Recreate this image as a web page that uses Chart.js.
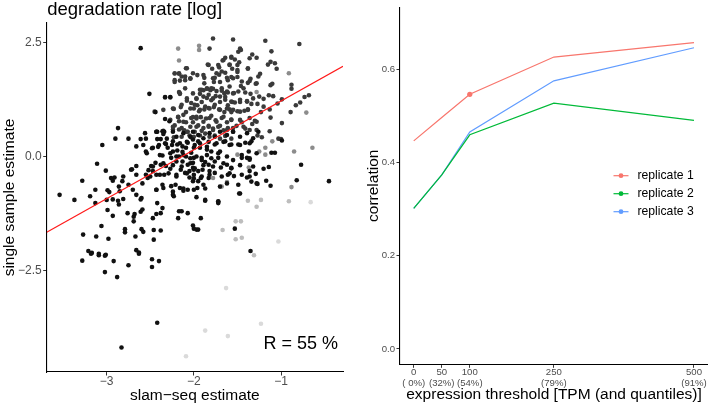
<!DOCTYPE html>
<html><head><meta charset="utf-8">
<script src="https://cdn.jsdelivr.net/npm/chart.js@4/dist/chart.umd.min.js"></script>
<style>
html,body{margin:0;padding:0;background:#fff;}
#wrap{position:relative;width:708px;height:406px;overflow:hidden;background:#fff;}
canvas{position:absolute;top:0;}
#c1{left:0;} #c2{left:350px;}
</style></head><body>
<div id="wrap"><canvas id="c1" width="350" height="406"></canvas><canvas id="c2" width="358" height="406"></canvas></div>
<script>
// ---------- left panel data: [slam-seq estimate, single sample estimate] ----------
const exprHigh = [
[-2.61,2.37],[-2.51,1.37],[-2.33,1.30],[-2.27,1.30],[-2.44,0.97],[-2.33,0.82],[-2.28,0.77],[-2.87,0.62],[-2.42,0.54],[-2.36,0.55],[-2.34,0.54],[-2.90,0.39],[-2.75,0.39],[-2.61,0.38],[-2.42,0.38],[-2.38,0.38],[-2.31,0.39],
[-3.05,0.25],[-3.11,-0.16],[-3.28,-0.53],[-3.54,-0.84],[-3.37,-0.95],[-3.01,-0.31],[-3.13,-0.73],[-3.19,-0.87],[-3.13,-1.02],[-2.99,-0.74],[-2.97,-0.78],[-2.95,-0.47],[-2.91,-0.46],[-2.81,-0.44],[-2.86,-0.66],[-2.85,-0.76],[-2.71,-0.28],[-2.66,-0.21],[-2.66,-0.40],[-2.59,-0.59],[-2.55,-0.40],[-2.53,-0.47],[-2.93,-0.94],[-2.87,-0.97],[-2.81,-0.93],[-3.00,-0.95],[-2.70,-0.73],[-2.66,-0.84],[-2.61,-0.94],[-2.86,-1.05],[-2.99,-1.17],[-2.93,-1.30],[-2.76,-1.24],[-2.68,-1.26],[-2.69,-1.32],[-2.59,-1.16],[-2.61,-1.21],[-2.69,-1.42],[-3.06,-1.52],[-3.27,-1.71],[-3.12,-1.75],[-2.98,-1.80],[-2.79,-1.59],[-2.79,-1.66],[-2.67,-1.75],[-2.60,-1.59],[-2.58,-1.65],[-2.46,-1.61],[-2.46,-1.82],[-2.38,-1.62],[-3.21,-2.07],[-3.17,-2.11],[-3.09,-2.13],[-3.01,-2.15],[-2.66,-2.05],[-2.63,-2.10],[-2.43,-0.40],[-2.34,-0.40],[-2.43,-0.73],[-2.36,-0.62],[-2.35,-0.69],[-2.23,-0.87],[-2.26,-0.65],[-2.21,-0.62],[-2.16,-0.69],[-2.12,-0.75],[-2.07,-0.73],[-2.17,-1.20],[-2.14,-1.20],[-2.18,-1.35],[-2.07,-1.24],[-2.01,-1.51],[-2.00,-1.58],[-2.36,-1.13],[-2.38,-1.24],[-2.43,-1.26],[-2.47,-1.35],[-2.42,-1.02],[-2.52,-0.30],[-2.49,-0.21],[-2.44,-0.14],[-2.47,-0.32],[-2.36,0.02],[-2.38,-0.18],[-2.32,-0.21],[-2.27,-0.27],[-2.24,0.11],[-2.19,0.13],[-2.13,0.10],[-2.09,0.19],[-2.13,-0.11],[-2.07,-0.18],[-2.01,-0.25],[-2.05,-0.32],[-2.00,-0.40],[-2.66,0.22],[-2.55,0.11],[-2.47,0.19],[-2.40,0.25],[-2.32,0.27],[-2.24,0.33],[-2.72,-0.29],[-2.93,-0.53],[-2.82,-0.54],[-2.75,-0.62],[-2.55,0.39],
[-2.01,0.37],[-2.07,0.30],[-2.00,0.19],[-2.03,0.08],[-2.09,0.00],[-2.00,-0.03],[-2.17,0.00],[-2.20,-0.11],[-2.26,-0.03],[-2.30,0.19],[-2.19,0.26],[-2.13,0.22],[-2.01,-0.14],[-2.00,-0.29],[-2.10,-0.36],[-2.15,-0.29],[-2.20,-0.40],[-2.01,-0.54],[-2.05,-0.46],
[-0.99,0.35],[-1.11,0.08],[-1.07,0.08],[-0.77,-0.18],[-0.82,-0.52],[-0.45,-0.54],[-1.14,-0.23],[-1.20,-0.27],[-1.29,-0.38],[-1.36,-0.32],[-1.39,-0.46],[-1.17,-0.53],[-1.12,-0.64],[-1.34,-0.55],[-1.27,-0.60],[-1.49,-0.62],[-1.48,-0.81],[-1.54,-0.43],[-1.72,-0.98],[-1.72,-1.02],[-1.87,-0.97],[-1.97,-0.89],[-1.92,-1.35],[-1.97,-1.60],[-1.95,-1.60],[-1.53,-1.58],[-1.35,-2.07],
[-1.91,-0.03],[-1.87,-0.12],[-1.83,-0.18],[-1.90,-0.29],[-1.95,-0.32],[-1.82,-0.32],[-1.76,-0.36],[-1.69,-0.24],[-1.62,-0.18],[-1.57,-0.25],[-1.76,-0.11],[-1.72,-0.03],[-1.70,0.11],[-1.80,0.11],[-1.85,0.15],[-1.93,0.19],[-1.95,0.33],[-1.83,0.32],[-1.76,0.26],[-1.64,0.33],[-1.57,0.26],[-1.49,0.26],[-1.41,0.30],[-1.34,0.33],[-1.37,0.11],[-1.45,-0.03],[-1.39,-0.03],[-1.36,-0.07],[-1.95,-0.54],[-1.89,-0.62],[-1.83,-0.47],[-1.61,-0.40],[-1.96,-0.69],[-1.92,-0.47],
[-3.28,-2.28],[-3.18,-2.13],[-3.09,-2.16],[-3.02,-2.17],[-2.92,-2.29],[-3.02,-2.53],[-2.88,-2.64],[-2.75,-2.38],[-2.63,-2.13],[-2.48,-2.25],[-2.40,-2.29],[-2.48,-2.42],[-2.42,-3.64],[-2.83,-4.18],
[-2.56,0.51],[-2.43,0.54],[-2.35,0.49],[-2.24,0.54],[-2.20,0.43],[-2.12,0.51],[-2.04,0.43],[-2.01,0.54],[-1.95,0.47],[-1.89,0.40],[-1.82,0.51],[-1.76,0.43],[-1.70,0.54],[-1.62,0.47],[-1.55,0.54],[-1.47,0.43],[-1.39,0.51],[-1.32,0.40],[-1.26,0.54],
[-2.58,0.25],[-2.48,0.18],[-2.41,0.21],[-2.33,0.29],[-2.25,0.25],[-2.16,0.29],[-2.08,0.32],[-1.99,0.25],[-1.93,0.29],[-1.85,0.21],[-1.74,0.29],[-1.66,0.32],[-1.59,0.25],[-1.47,0.25],[-1.36,0.29],
[-2.54,0.07],[-2.39,0.03],[-2.27,0.07],[-2.20,0.00],[-2.12,0.03],[-2.04,-0.04],[-1.97,0.00],[-1.91,-0.08],[-1.85,0.03],[-1.80,-0.04],[-1.72,0.07],[-1.62,0.00],[-1.55,-0.08],[-1.45,0.03],[-1.36,-0.04],[-1.28,0.07],
[-2.47,-0.22],[-2.35,-0.15],[-2.24,-0.19],[-2.14,-0.22],[-2.04,-0.15],[-1.99,-0.26],[-1.89,-0.19],[-1.78,-0.22],[-1.66,-0.15],[-1.57,-0.26],[-1.47,-0.19],[-1.32,-0.22],
[-2.50,-0.44],[-2.39,-0.40],[-2.29,-0.37],[-2.20,-0.44],[-2.08,-0.37],[-2.00,-0.48],[-1.91,-0.44],[-1.82,-0.40],[-1.68,-0.44],[-1.59,-0.37],[-1.45,-0.40],[-1.36,-0.44],
[-2.43,-0.73],[-2.24,-0.77],[-2.12,-0.70],[-2.00,-0.73],[-1.87,-0.70],[-1.70,-0.66],[-1.62,-0.59],[-1.47,-0.81],[-1.28,-0.59],
[-2.60,-0.91],[-2.24,-0.84],[-1.87,-0.95],[-1.72,-0.99]
];
const exprUpper = [
[-2.09,1.93],[-2.17,1.81],[-2.10,1.75],[-2.04,1.70],[-2.22,1.63],[-2.16,1.66],[-2.10,1.49],[-2.17,1.41],[-2.16,1.37],[-2.08,1.22],[-2.03,1.17],[-2.23,1.04],[-2.15,1.08],[-2.09,0.97],[-2.12,0.91],[-2.18,0.86],[-2.01,0.86],[-2.17,0.77],[-2.09,0.75],[-2.22,0.68],[-2.04,0.65],[-2.24,0.59],[-2.17,0.59],[-2.07,0.54],[-2.23,0.42],[-2.14,0.43],[-2.03,0.42],
[-2.00,1.05],[-2.01,0.75],[-1.99,0.54],[-2.05,0.46],[-2.11,0.57],[-2.00,0.43],
[-1.78,2.58],[-1.55,2.56],[-1.18,2.53],[-0.79,2.46],[-1.82,2.36],[-1.47,2.36],[-1.46,2.33],[-1.49,2.29],[-1.11,2.30],[-1.33,2.23],[-1.28,2.16],[-1.57,2.18],[-1.64,2.16],[-1.67,2.10],[-1.53,2.12],[-1.12,2.07],[-1.07,2.04],[-1.84,2.01],[-1.59,2.01],[-1.72,2.00],[-1.71,1.95],[-1.50,2.00],[-1.15,2.01],[-1.79,1.92],[-1.56,1.92],[-1.38,1.92],[-1.05,1.92],[-1.50,1.85],[-1.64,1.83],[-1.71,1.79],[-1.24,1.81],[-1.26,1.75],[-1.57,1.74],[-1.50,1.74],[-1.62,1.72],[-1.88,1.72],[-1.76,1.72],[-1.35,1.70],[-1.96,1.78],[-1.29,1.59],[-1.10,1.59],[-1.38,1.61],[-0.88,1.57],[-1.77,1.63],[-1.70,1.63],[-1.88,1.60],[-1.59,1.53],[-1.46,1.54],[-1.12,1.56],[-0.88,1.48],[-1.85,1.48],[-1.81,1.45],[-1.78,1.48],[-1.93,1.46],[-1.68,1.44],[-1.65,1.38],[-1.61,1.40],[-1.54,1.39],[-1.41,1.40],[-1.35,1.37],[-1.25,1.31],[-1.20,1.26],[-1.14,1.34],[-1.09,1.32],[-0.99,1.25],[-0.73,1.30],[-0.68,1.34],[-0.78,1.18],[-0.83,1.12],[-1.04,1.16],[-1.53,1.18],[-1.47,1.19],[-1.39,1.21],[-1.34,1.15],[-1.27,1.15],[-1.20,1.09],[-1.13,1.03],[-0.89,0.97],[-1.42,1.00],[-1.38,1.03],[-1.23,0.97],[-1.50,0.99],[-1.57,0.97],[-1.12,0.85],[-0.99,0.73],[-1.30,0.78],[-1.33,0.71],[-1.45,0.75],[-1.51,0.67],[-1.41,0.61],[-1.13,0.55],[-1.28,0.58],[-1.27,0.46],[-1.22,0.42],[-1.03,0.39],[-1.00,0.38],
[-1.97,1.26],[-1.93,1.37],[-1.89,1.45],[-1.96,1.12],[-1.91,1.19],[-1.85,1.28],[-1.80,1.23],[-1.75,1.32],[-1.70,1.19],[-1.64,1.30],[-1.61,1.12],[-1.56,1.19],[-1.94,0.99],[-1.88,1.03],[-1.83,1.06],[-1.77,1.08],[-1.71,1.03],[-1.65,0.97],[-1.59,1.03],[-1.97,0.83],[-1.92,0.86],[-1.86,0.83],[-1.80,0.89],[-1.75,0.79],[-1.68,0.84],[-1.62,0.75],[-1.57,0.81],[-1.95,0.68],[-1.89,0.62],[-1.83,0.67],[-1.78,0.61],[-1.72,0.65],[-1.66,0.57],[-1.61,0.62],[-1.55,0.54],[-1.93,0.46],[-1.87,0.50],[-1.82,0.43],[-1.76,0.46],[-1.70,0.39],[-1.64,0.45],[-1.57,0.39],
[-1.83,2.00],[-1.66,2.11],[-1.57,2.16],[-1.48,2.06],[-1.59,2.00],[-1.50,1.89],[-1.38,1.93],[-1.36,2.15],
[-2.22,1.82],[-2.17,1.82],[-2.08,1.93],[-2.01,1.82],[-2.22,1.67],[-2.14,1.75],[-2.10,1.67],[-2.04,1.71],
[-1.89,1.78],[-1.78,1.71],[-1.74,1.82],[-1.68,1.86],[-1.61,1.67],[-1.55,1.71],[-1.45,1.64],[-1.36,1.65],[-1.28,1.60],
[-2.33,1.29],[-2.27,1.29],[-2.16,1.38],[-2.08,1.27],[-2.01,1.38],
[-1.91,1.46],[-1.85,1.49],[-1.80,1.49],[-1.74,1.43],[-1.68,1.49],[-1.62,1.42],[-1.55,1.38],[-1.49,1.42],[-1.43,1.49],
[-1.97,1.27],[-1.89,1.31],[-1.83,1.35],[-1.78,1.27],[-1.70,1.31],[-1.64,1.24],[-1.57,1.20],[-1.47,1.24],[-1.39,1.20],[-1.32,1.27],
[-2.45,0.98],[-2.35,1.02],[-2.24,1.05],[-2.14,1.13],[-2.04,1.05],[-1.99,1.13],
[-1.93,1.02],[-1.87,1.09],[-1.82,1.05],[-1.76,1.13],[-1.70,1.02],[-1.62,1.05],[-1.55,1.02],[-1.47,0.98],[-1.38,1.02],
[-2.27,0.80],[-2.18,0.87],[-2.12,0.76],[-2.03,0.84],[-1.97,0.87],[-1.89,0.76],[-1.82,0.84],[-1.74,0.76],[-1.66,0.87],[-1.57,0.80],[-1.47,0.80],[-1.36,0.84],[-1.28,0.76],
[-2.43,0.54],[-2.35,0.56],[-2.24,0.65],[-2.14,0.62],[-2.08,0.54],[-1.97,0.65],[-1.91,0.56],[-1.83,0.65],[-1.78,0.58],[-1.70,0.67],[-1.62,0.58],[-1.55,0.62],[-1.43,0.65],[-1.36,0.58]
];
const exprMid = [
[-2.18,2.36],[-2.17,2.10],[-2.22,1.81],[-1.94,2.42],[-1.94,2.33],[-0.91,1.82],[-1.28,1.41],[-0.71,0.96],[-1.10,0.33],[-0.85,0.11],[-0.64,0.19],[-1.18,0.19],[-1.25,0.11],[-1.18,0.04],[-0.88,-0.67],[-1.37,-0.24],[-1.62,-0.56],[-1.68,-0.66],[-1.78,-0.47],[-1.50,0.04]
];
const exprLow = [
[-1.38,-0.97],[-1.23,-0.95],[-1.28,-1.10],[-0.91,-0.98],[-1.52,-1.42],[-1.46,-1.42],[-1.67,-1.61],[-1.52,-1.81],[-1.45,-1.78],[-1.31,-2.16]
];
const exprLowest = [
[-0.66,-1.00],[-1.03,-1.86],[-1.63,-2.88],[-1.87,-3.81],[-1.61,-3.93],[-1.23,-3.66],[-2.09,-4.37]
];
const fitSlope = 1.068;
const fitIntercept = 2.28;
const corrLabel = 'R = 55 %';
const xTicksLeft = [-3, -2, -1];
const yTicksLeft = [-2.5, 0, 2.5];

// ---------- right panel data ----------
const thresholds = [0, 50, 100, 250, 500];
const quantileLabels = ['( 0%)', '(32%)', '(54%)', '(79%)', '(91%)'];
const replicate1 = [0.447, 0.497, 0.547, 0.627, 0.658];
const replicate2 = [0.302, 0.374, 0.460, 0.528, 0.491];
const replicate3 = [0.302, 0.374, 0.466, 0.576, 0.647];
const replicate1Marked = [100];
const yTicksRight = [0, 0.2, 0.4, 0.6];

const FAM = "'Liberation Sans', Arial, Helvetica, sans-serif";
const fmtMinus = s => s.replace('-', '\u2212');
const toPts = arr => arr.map(p => ({x: p[0], y: p[1]}));

const leftDecor = {
  id: 'leftDecor',
  afterDraw(chart) {
    const {ctx, chartArea} = chart;
    ctx.save();
    ctx.fillStyle = '#000';
    ctx.font = '18.5px ' + FAM;
    ctx.textAlign = 'left';
    ctx.textBaseline = 'alphabetic';
    ctx.fillText('degradation rate [log]', chartArea.left + 0.5, 15);
    ctx.font = '18px ' + FAM;
    ctx.textAlign = 'right';
    ctx.fillText(corrLabel, chartArea.right - 5, chartArea.bottom - 23.5);
    ctx.restore();
  }
};

const ptStyle = (arr, color, order) => ({data: toPts(arr), backgroundColor: color, borderWidth: 0, pointRadius: 2.3, pointHoverRadius: 2.3, order});

new Chart(document.getElementById('c1'), {
  type: 'scatter',
  data: { datasets: [
    { type: 'line', data: [-3.688, -0.289].map(x => ({x, y: fitIntercept + fitSlope * x})), borderColor: '#ff1a1a', borderWidth: 1.2, pointRadius: 0, fill: false, order: 0 },
    ptStyle(exprHigh, '#111111', 1),
    ptStyle(exprUpper, '#3a3a3a', 2),
    ptStyle(exprMid, '#8c8c8c', 3),
    ptStyle(exprLow, '#bdbdbd', 4),
    ptStyle(exprLowest, '#dadada', 5)
  ]},
  options: {
    responsive: false, animation: false, devicePixelRatio: 1,
    layout: { padding: { top: 23, right: 7, bottom: 0, left: 0 } },
    plugins: { legend: { display: false }, tooltip: { enabled: false } },
    scales: {
      x: {
        type: 'linear', min: -3.688, max: -0.289,
        afterBuildTicks: s => { s.ticks = xTicksLeft.map(v => ({value: v})); },
        afterFit: s => { s.height = 34; },
        grid: { drawOnChartArea: false, drawTicks: true, tickLength: 3.5, color: '#333', tickWidth: 1 },
        border: { display: true, color: '#000', width: 1.1 },
        ticks: { color: '#4d4d4d', font: { family: FAM, size: 12, lineHeight: 1 }, padding: 0, maxRotation: 0, autoSkip: false, callback: v => fmtMinus(String(v)) },
        title: { display: true, text: 'slam\u2212seq estimate', color: '#000', font: { family: FAM, size: 15.5, lineHeight: 1.2 }, padding: { top: 0, bottom: 1.2 } }
      },
      y: {
        type: 'linear', min: -4.716, max: 2.92,
        afterBuildTicks: s => { s.ticks = yTicksLeft.map(v => ({value: v})); },
        afterFit: s => { s.width = 46.7; },
        grid: { drawOnChartArea: false, drawTicks: true, tickLength: 3.5, color: '#333', tickWidth: 1 },
        border: { display: true, color: '#000', width: 1.1 },
        ticks: { color: '#4d4d4d', font: { family: FAM, size: 12 }, padding: 1.5, autoSkip: false, callback: v => fmtMinus(v.toFixed(1)) },
        title: { display: true, text: 'single sample estimate', color: '#000', font: { family: FAM, size: 15.5, lineHeight: 1.2 }, padding: { top: 0.2, bottom: 0 } }
      }
    }
  },
  plugins: [leftDecor]
});

// ---------- right panel ----------
const repColors = ['#F8766D', '#00BA38', '#619CFF'];
const repNames = ['replicate 1', 'replicate 2', 'replicate 3'];
const repData = [replicate1, replicate2, replicate3];

const rightLegend = {
  id: 'rightLegend',
  afterDraw(chart) {
    const {ctx, chartArea} = chart;
    ctx.save();
    const x0 = chartArea.left + 213.5;
    const y0 = 175.7;
    ctx.font = '12.2px ' + FAM;
    ctx.textBaseline = 'middle';
    ctx.textAlign = 'left';
    repNames.forEach((name, i) => {
      const y = y0 + i * 18;
      ctx.strokeStyle = repColors[i];
      ctx.lineWidth = 1.2;
      ctx.beginPath(); ctx.moveTo(x0, y); ctx.lineTo(x0 + 15, y); ctx.stroke();
      ctx.fillStyle = repColors[i];
      ctx.beginPath(); ctx.arc(x0 + 7.5, y, 2.4, 0, Math.PI * 2); ctx.fill();
      ctx.fillStyle = '#000';
      ctx.fillText(name, x0 + 24, y);
    });
    ctx.restore();
  }
};

new Chart(document.getElementById('c2'), {
  type: 'line',
  data: { datasets: repData.map((vals, i) => ({
    label: repNames[i],
    data: thresholds.map((t, j) => ({x: t, y: vals[j]})),
    borderColor: repColors[i], backgroundColor: repColors[i], borderWidth: 1.2, fill: false, tension: 0,
    pointRadius: i === 0 ? (c => (c.raw && replicate1Marked.includes(c.raw.x)) ? 2.6 : 0) : 0,
    pointBorderWidth: 0,
    order: i
  }))},
  options: {
    responsive: false, animation: false, devicePixelRatio: 1,
    layout: { padding: { top: 5, right: 0, bottom: 0, left: 0 } },
    plugins: { legend: { display: false }, tooltip: { enabled: false } },
    scales: {
      x: {
        type: 'linear', min: -24.5, max: 525,
        afterBuildTicks: s => { s.ticks = thresholds.map(v => ({value: v})); },
        afterFit: s => { s.height = 41.7; },
        grid: { drawOnChartArea: false, drawTicks: true, tickLength: 3.5, color: '#333', tickWidth: 1 },
        border: { display: true, color: '#000', width: 1.1 },
        ticks: { color: '#4d4d4d', font: { family: FAM, size: 9.6, lineHeight: 1.05 }, padding: 0, maxRotation: 0, autoSkip: false,
                 callback: v => [String(v), quantileLabels[thresholds.indexOf(v)]] },
        title: { display: true, text: 'expression threshold [TPM (and quantiles)]', color: '#000', font: { family: FAM, size: 15.5, lineHeight: 1.2 }, padding: { top: 0, bottom: 1.7 } }
      },
      y: {
        type: 'linear', min: -0.033, max: 0.734,
        afterBuildTicks: s => { s.ticks = yTicksRight.map(v => ({value: v})); },
        afterFit: s => { s.width = 50; },
        grid: { drawOnChartArea: false, drawTicks: true, tickLength: 3.5, color: '#333', tickWidth: 1 },
        border: { display: true, color: '#000', width: 1.1 },
        ticks: { color: '#4d4d4d', font: { family: FAM, size: 9.6 }, padding: 1.5, autoSkip: false, callback: v => v.toFixed(1) },
        title: { display: true, text: 'correlation', color: '#000', font: { family: FAM, size: 15.5, lineHeight: 1.2 }, padding: { top: 14.5, bottom: 0 } }
      }
    }
  },
  plugins: [rightLegend]
});
</script>
</body></html>
